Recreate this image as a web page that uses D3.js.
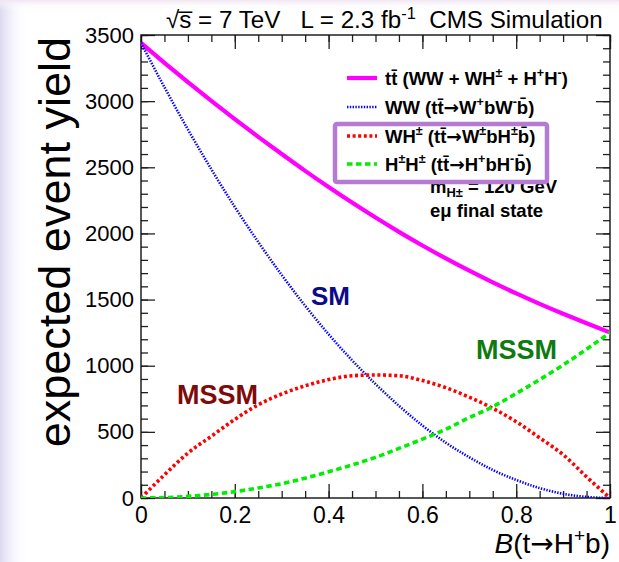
<!DOCTYPE html>
<html>
<head>
<meta charset="utf-8">
<script src="https://cdn.jsdelivr.net/npm/d3@7"></script>
<style>
  html, body { margin: 0; padding: 0; background: #fff; }
  svg { display: block; }
  text { font-family: "Liberation Sans", Arial, sans-serif; }
</style>
</head>
<body>
<svg id="chart" width="619" height="562"></svg>
<script>
// Branching fraction B(t -> H+ b), sampled every 0.05
const branching = [0, 0.05, 0.1, 0.15, 0.2, 0.25, 0.3, 0.35, 0.4, 0.45, 0.5,
                   0.55, 0.6, 0.65, 0.7, 0.75, 0.8, 0.85, 0.9, 0.95, 1];

// Expected yields per decay mode
const yieldTotal = [3440, 3290, 3144, 3002, 2864, 2730, 2600, 2473, 2351, 2233, 2120,
                    2012, 1909, 1811, 1718, 1630, 1547, 1468, 1393, 1321, 1252];
const yieldWW    = [3440, 3105, 2786, 2485, 2200, 1935, 1686, 1453, 1238, 1041, 862,
                    697, 548, 418, 308, 212, 136, 75, 32, 8, 0];
const yieldWH    = [0, 175, 340, 467, 594, 705, 786, 848, 895, 924, 930,
                    924, 888, 834, 762, 678, 577, 455, 328, 160, 0];
const yieldHH    = [0, 3, 12, 27, 48, 76, 108, 150, 198, 250, 307,
                    375, 445, 520, 608, 690, 790, 895, 1005, 1125, 1250];

const xTicks = [0, 0.2, 0.4, 0.6, 0.8, 1];
const xTickLabels = ["0", "0.2", "0.4", "0.6", "0.8", "1"];
const yTicks = [0, 500, 1000, 1500, 2000, 2500, 3000, 3500];
const yTickLabels = ["0", "500", "1000", "1500", "2000", "2500", "3000", "3500"];

const svg = d3.select("#chart");
const W = 619, H = 562;
const ARROW_FONT = "DejaVu Sans, sans-serif";

// soft slide background on the left and top edges
const defs = svg.append("defs");
const gl = defs.append("linearGradient").attr("id", "leftFade").attr("x1", 0).attr("x2", 1).attr("y1", 0).attr("y2", 0);
gl.append("stop").attr("offset", 0).attr("stop-color", "#dcd9f1");
gl.append("stop").attr("offset", 1).attr("stop-color", "#ffffff").attr("stop-opacity", 0);
const gt = defs.append("linearGradient").attr("id", "topFade").attr("x1", 0).attr("x2", 0).attr("y1", 0).attr("y2", 1);
gt.append("stop").attr("offset", 0).attr("stop-color", "#f1e6f3");
gt.append("stop").attr("offset", 1).attr("stop-color", "#ffffff").attr("stop-opacity", 0);
svg.append("rect").attr("width", W).attr("height", H).attr("fill", "#fff");
svg.append("rect").attr("x", 0).attr("y", 0).attr("width", 28).attr("height", H).attr("fill", "url(#leftFade)");
svg.append("rect").attr("x", 0).attr("y", 0).attr("width", W).attr("height", 10).attr("fill", "url(#topFade)");

const x = d3.scaleLinear().domain([0, 1]).range([141, 610]);
const y = d3.scaleLinear().domain([0, 3500]).range([498, 35]);

defs.append("clipPath").attr("id", "plotClip")
  .append("rect").attr("x", 141).attr("y", 35).attr("width", 469).attr("height", 463);

// helper: write rich text with super/subscripts as tspans;
// a part is [text, mode(0 normal, 1 sup, -1 sub), optional styler]
function rich(sel, parts, size) {
  let shift = 0;
  parts.forEach(([t, mode, extra]) => {
    const ts = sel.append("tspan").text(t);
    let target = 0, fs = size;
    if (mode === 1) { target = -0.38 * size; fs = size * 0.68; }
    if (mode === -1) { target = 0.22 * size; fs = size * 0.7; }
    ts.attr("dy", target - shift).attr("font-size", fs);
    if (extra) extra(ts);
    shift = target;
  });
  if (shift !== 0) sel.append("tspan").text("\u200b").attr("dy", -shift);
  return sel;
}
const arrow = ts => ts.attr("font-family", ARROW_FONT);

// ---- axes: ticks on all four sides, pointing inward ----
const axisStroke = "#222";
function styleAxis(g) {
  g.select(".domain").remove();
  g.selectAll("line").attr("stroke", axisStroke).attr("stroke-width", 1.3);
}
const xMinor = d3.range(0, 1.0001, 0.05);
const yMinor = d3.range(0, 3500.1, 100);

// bottom
svg.append("g").attr("transform", "translate(0,498)")
  .call(d3.axisBottom(x).tickValues(xMinor).tickSizeInner(-7).tickSizeOuter(0).tickFormat(""))
  .call(styleAxis);
svg.append("g").attr("transform", "translate(0,498)")
  .call(d3.axisBottom(x).tickValues(xTicks).tickSizeInner(-14).tickSizeOuter(0).tickPadding(8)
        .tickFormat((d, i) => xTickLabels[i]))
  .call(styleAxis)
  .call(g => g.selectAll("text").attr("font-size", 23).attr("fill", "#000")
              .attr("font-family", "Liberation Sans, Arial, sans-serif").attr("dy", "0.72em"));
// top
svg.append("g").attr("transform", "translate(0,35)")
  .call(d3.axisTop(x).tickValues(xMinor).tickSizeInner(-7).tickSizeOuter(0).tickFormat(""))
  .call(styleAxis);
svg.append("g").attr("transform", "translate(0,35)")
  .call(d3.axisTop(x).tickValues(xTicks).tickSizeInner(-14).tickSizeOuter(0).tickFormat(""))
  .call(styleAxis);
// left
svg.append("g").attr("transform", "translate(141,0)")
  .call(d3.axisLeft(y).tickValues(yMinor).tickSizeInner(-7).tickSizeOuter(0).tickFormat(""))
  .call(styleAxis);
svg.append("g").attr("transform", "translate(141,0)")
  .call(d3.axisLeft(y).tickValues(yTicks).tickSizeInner(-14).tickSizeOuter(0).tickPadding(7)
        .tickFormat((d, i) => yTickLabels[i]))
  .call(styleAxis)
  .call(g => g.selectAll("text").attr("font-size", 22).attr("fill", "#000")
              .attr("font-family", "Liberation Sans, Arial, sans-serif"));
// right
svg.append("g").attr("transform", "translate(610,0)")
  .call(d3.axisRight(y).tickValues(yMinor).tickSizeInner(-7).tickSizeOuter(0).tickFormat(""))
  .call(styleAxis);
svg.append("g").attr("transform", "translate(610,0)")
  .call(d3.axisRight(y).tickValues(yTicks).tickSizeInner(-14).tickSizeOuter(0).tickFormat(""))
  .call(styleAxis);

// frame
svg.append("rect").attr("x", 141).attr("y", 35).attr("width", 469).attr("height", 463)
  .attr("fill", "none").attr("stroke", "#111").attr("stroke-width", 1.4);

// ---- curves ----
const line = d3.line().x((d, i) => x(branching[i])).y(d => y(d)).curve(d3.curveMonotoneX);
const curves = svg.append("g").attr("clip-path", "url(#plotClip)");
const seriesStyles = [
  { data: yieldTotal, color: "#ff00ff", width: 4.2, dash: null },
  { data: yieldWW,    color: "#0000ff", width: 2.6, dash: "1.4,1.4" },
  { data: yieldWH,    color: "#ff0000", width: 3.6, dash: "3,2.6" },
  { data: yieldHH,    color: "#00ee00", width: 3.6, dash: "5.5,3.5" }
];
seriesStyles.forEach(s => {
  curves.append("path").attr("d", line(s.data)).attr("fill", "none")
    .attr("stroke", s.color).attr("stroke-width", s.width)
    .attr("stroke-dasharray", s.dash);
});

// ---- legend ----
const legendRows = [
  [["t", 0], ["t\u0304", 0], [" (WW + WH", 0], ["\u00b1", 1], [" + H", 0], ["+", 1], ["H", 0], ["-", 1], [")", 0]],
  [["WW (tt\u0304", 0], ["\u2192", 0, arrow], ["W", 0], ["+", 1], ["bW", 0], ["-", 1], ["b\u0304)", 0]],
  [["WH", 0], ["\u00b1", 1], [" (tt\u0304", 0], ["\u2192", 0, arrow], ["W", 0], ["\u00b1", 1], ["bH", 0], ["\u00b1", 1], ["b\u0304)", 0]],
  [["H", 0], ["\u00b1", 1], ["H", 0], ["\u00b1", 1], [" (tt\u0304", 0], ["\u2192", 0, arrow], ["H", 0], ["+", 1], ["bH", 0], ["-", 1], ["b\u0304)", 0]]
];
const legendY = [78, 107, 136, 164];
const legendFont = 18.5;
const legend = svg.append("g");
legendRows.forEach((parts, i) => {
  const s = seriesStyles[i];
  legend.append("line").attr("x1", 347).attr("x2", 377).attr("y1", legendY[i]).attr("y2", legendY[i])
    .attr("stroke", s.color).attr("stroke-width", s.width).attr("stroke-dasharray", s.dash);
  const t = legend.append("text").attr("x", 385).attr("y", legendY[i] + 6.5)
    .attr("font-weight", "bold").attr("font-size", legendFont).attr("fill", "#000")
    .attr("xml:space", "preserve");
  rich(t, parts, legendFont);
});

const mt = svg.append("text").attr("x", 430).attr("y", 193).attr("font-weight", "bold")
  .attr("font-size", legendFont).attr("xml:space", "preserve");
rich(mt, [["m", 0], ["H\u00b1", -1], [" = 120 GeV", 0]], legendFont);
svg.append("text").attr("x", 430).attr("y", 217).attr("font-weight", "bold")
  .attr("font-size", legendFont).text("e\u03bc final state");

// highlight box around the charged-Higgs entries
svg.append("rect").attr("x", 335).attr("y", 124).attr("width", 212).attr("height", 58)
  .attr("rx", 2).attr("fill", "none").attr("stroke", "#b57bd2").attr("stroke-width", 4.5);

// ---- annotations ----
const annoFont = "Lato, 'Open Sans', sans-serif";
svg.append("text").attr("x", 311).attr("y", 305).attr("font-family", annoFont)
  .attr("font-weight", "bold").attr("font-size", 26).attr("fill", "#0a0a8a").text("SM");
svg.append("text").attr("x", 177).attr("y", 404).attr("font-family", annoFont)
  .attr("font-weight", "bold").attr("font-size", 27).attr("fill", "#7f0a0a").text("MSSM");
svg.append("text").attr("x", 476).attr("y", 359).attr("font-family", annoFont)
  .attr("font-weight", "bold").attr("font-size", 27).attr("fill", "#0f7a12").text("MSSM");

// ---- titles ----
const title = svg.append("text").attr("x", 166).attr("y", 28).attr("font-size", 24.2)
  .attr("xml:space", "preserve");
rich(title, [["\u221a", 0], ["s\u0305", 0], [" = 7 TeV   L = 2.3 fb", 0], ["-1", 1], ["  CMS Simulation", 0]], 24.2);

const xl = svg.append("text").attr("x", 610).attr("y", 553).attr("text-anchor", "end").attr("font-size", 28);
rich(xl, [["B", 0, ts => ts.attr("font-style", "italic")], ["(t", 0], ["\u2192", 0, arrow], ["H", 0], ["+", 1], ["b)", 0]], 28);

svg.append("text").attr("transform", "translate(70,37) rotate(-90)").attr("text-anchor", "end")
  .attr("font-size", 45).attr("fill", "#000").text("expected event yield");
</script>
</body>
</html>
